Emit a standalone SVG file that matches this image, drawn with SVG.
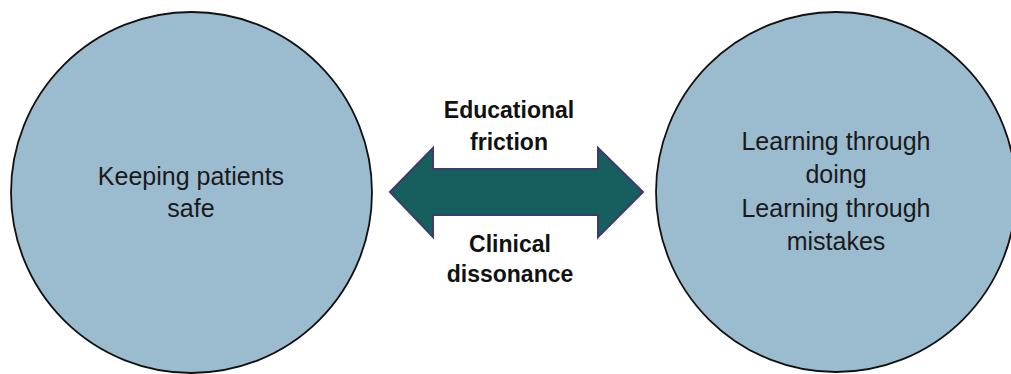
<svg xmlns="http://www.w3.org/2000/svg" width="1011" height="374" viewBox="0 0 1011 374">
<style>
.circ{fill:#9bbbcf;stroke:#111;stroke-width:1.8}
.lbl{font-family:"Liberation Sans",Arial,sans-serif;font-size:25px;fill:#1a1a1a;text-anchor:middle}
.elbl{font-family:"Liberation Sans",Arial,sans-serif;font-size:23px;font-weight:bold;fill:#111;text-anchor:middle}
.arrow{fill:#175f5e;stroke:#3c3c6c;stroke-width:2;stroke-linejoin:miter}
</style>
<rect width="1011" height="374" fill="#fff"/>
<g id="node-left">
<circle class="circ" cx="191.5" cy="192.5" r="180.5"/>
<text class="lbl" x="191" y="185">Keeping patients</text>
<text class="lbl" x="191" y="217">safe</text>
</g>
<g id="node-right">
<circle class="circ" cx="836" cy="192" r="180"/>
<text class="lbl" x="836" y="150">Learning through</text>
<text class="lbl" x="836" y="183">doing</text>
<text class="lbl" x="836" y="217">Learning through</text>
<text class="lbl" x="836" y="250">mistakes</text>
</g>
<g id="connectors">
<polygon class="arrow" points="390,192 433,148 433,169 598,169 598,148 643,192 598,237 598,215 433,215 433,237"/>
<text class="elbl" x="509" y="118">Educational</text>
<text class="elbl" x="509" y="150">friction</text>
<text class="elbl" x="510" y="252">Clinical</text>
<text class="elbl" x="510" y="282">dissonance</text>
</g>
</svg>
